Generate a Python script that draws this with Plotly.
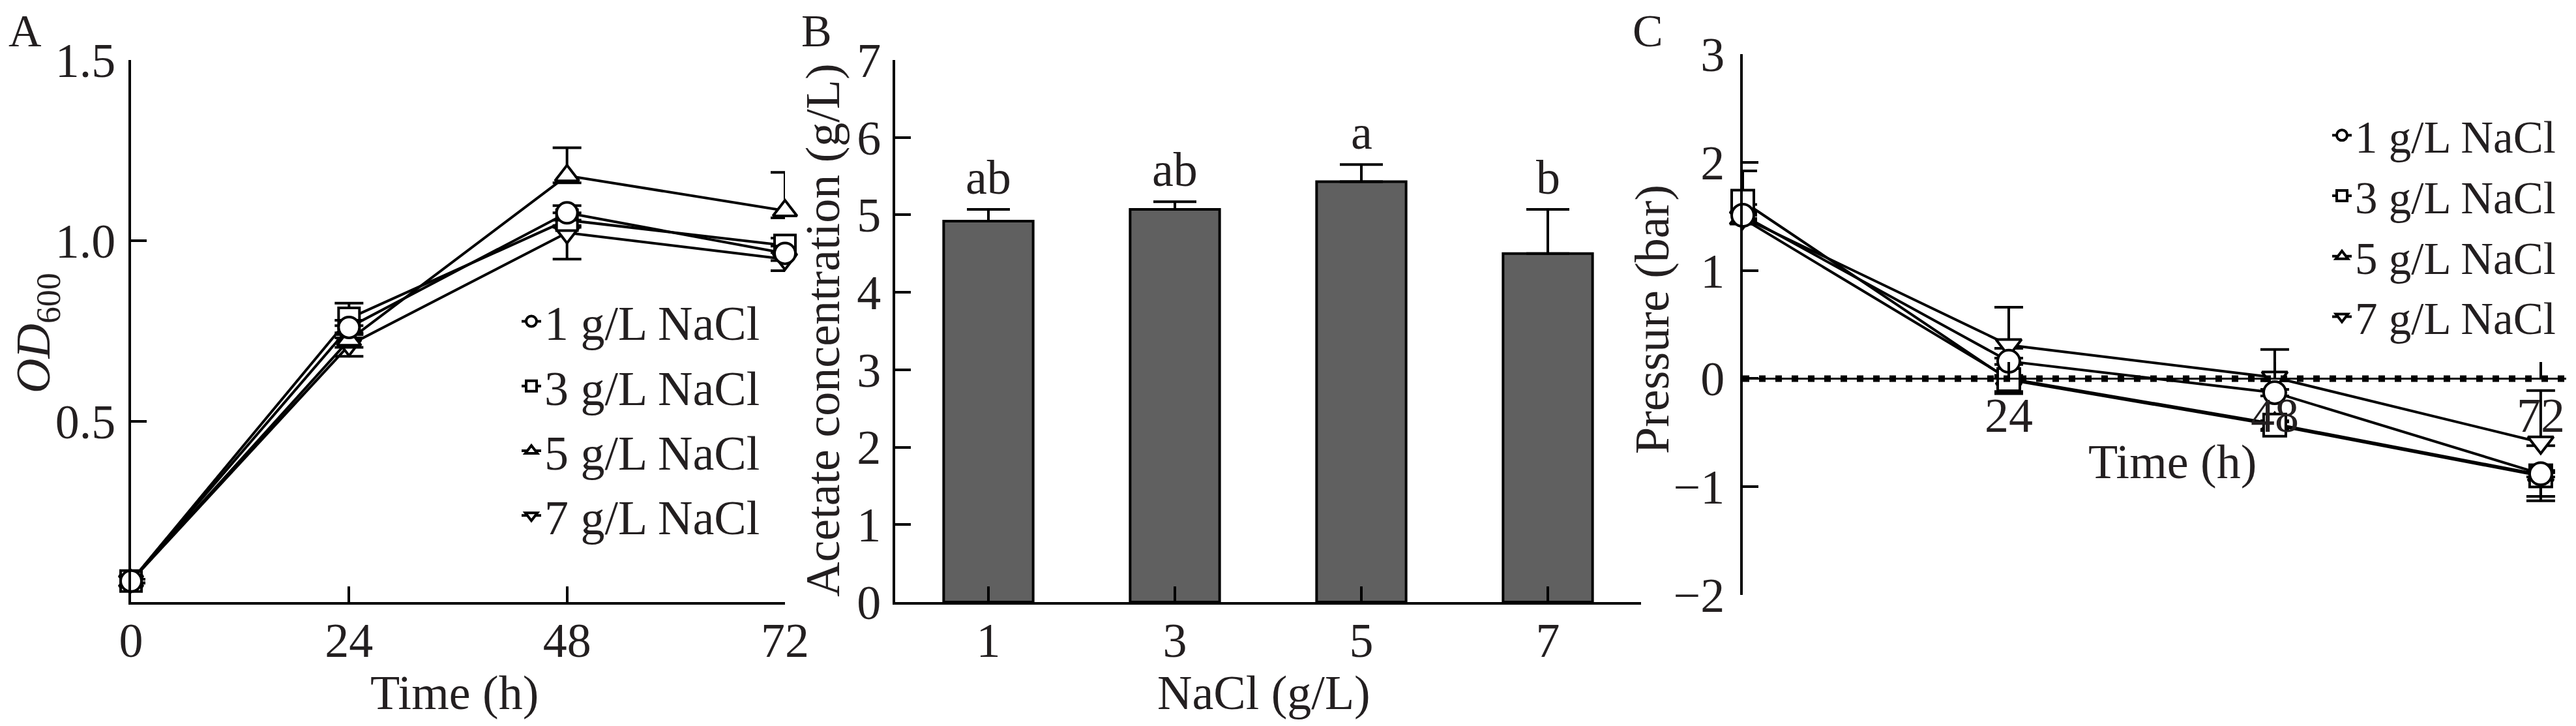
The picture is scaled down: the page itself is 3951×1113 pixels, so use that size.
import plotly.graph_objects as go

# Fig: growth (A), acetate (B) and pressure (C) under different NaCl levels
hours = [0, 24, 48, 72]
series_names = ["1 g/L NaCl", "3 g/L NaCl", "5 g/L NaCl", "7 g/L NaCl"]
series_symbols = ["circle", "square", "triangle-up", "triangle-down"]

# A: OD600
od_1 = [0.058, 0.760, 1.077, 0.965]
od_3 = [0.058, 0.785, 1.057, 0.987]
od_5 = [0.058, 0.725, 1.180, 1.083]
od_7 = [0.058, 0.711, 1.022, 0.949]
od_err_up_1 = [0.005, 0.02, 0.02, 0.02]
od_err_dn_1 = [0.005, 0.02, 0.02, 0.02]
od_err_up_3 = [0.005, 0.042, 0.02, 0.02]
od_err_dn_3 = [0.005, 0.02, 0.02, 0.02]
od_err_up_5 = [0.005, 0.02, 0.077, 0.106]
od_err_dn_5 = [0.005, 0.02, 0.02, 0.02]
od_err_up_7 = [0.005, 0.02, 0.02, 0.02]
od_err_dn_7 = [0.005, 0.031, 0.073, 0.032]

# B: acetate
nacl_levels = ["1", "3", "5", "7"]
acetate = [4.92, 5.07, 5.43, 4.50]
acetate_err = [0.15, 0.10, 0.22, 0.57]
acetate_letters = ["ab", "ab", "a", "b"]

# C: pressure
pr_1 = [1.51, 0.16, -0.13, -0.88]
pr_3 = [1.64, -0.01, -0.43, -0.90]
pr_5 = [1.48, 0.00, -0.42, -0.89]
pr_7 = [1.49, 0.31, 0.01, -0.59]
pr_err_up_1 = [0.03, 0.03, 0.03, 0.03]
pr_err_dn_1 = [0.03, 0.03, 0.03, 0.03]
pr_err_up_3 = [0.28, 0.03, 0.03, 0.03]
pr_err_dn_3 = [0.03, 0.13, 0.05, 0.23]
pr_err_up_5 = [0.03, 0.03, 0.03, 0.03]
pr_err_dn_5 = [0.05, 0.12, 0.05, 0.20]
pr_err_up_7 = [0.03, 0.35, 0.26, 0.48]
pr_err_dn_7 = [0.03, 0.03, 0.03, 0.03]

PAGE_W, PAGE_H = 3951, 1113
BODY = 8  # default page margin around the plot div
W, H = PAGE_W - 2 * BODY, PAGE_H - 2 * BODY
FONT = "Liberation Serif, Times New Roman, serif"
INK = "#231f20"


# page pixel -> paper fraction
def fx(p):
    return (p - BODY) / W


def fy(p):
    return 1 - (p - BODY) / H


od_sets = [(od_1, od_err_up_1, od_err_dn_1), (od_3, od_err_up_3, od_err_dn_3),
           (od_5, od_err_up_5, od_err_dn_5), (od_7, od_err_up_7, od_err_dn_7)]
pr_sets = [(pr_1, pr_err_up_1, pr_err_dn_1), (pr_3, pr_err_up_3, pr_err_dn_3),
           (pr_5, pr_err_up_5, pr_err_dn_5), (pr_7, pr_err_up_7, pr_err_dn_7)]

fig = go.Figure()

# draw 7 first so circles end up on top
for i in reversed(range(4)):
    for sets, xa, ya, leg, msize in [(od_sets, "x", "y", "legend", 32), (pr_sets, "x3", "y3", "legend2", 34)]:
        vals, up, dn = sets[i]
        fig.add_trace(go.Scatter(
            x=hours, y=vals, name=series_names[i], xaxis=xa, yaxis=ya,
            legend=leg, legendrank=i + 1, mode="lines+markers", cliponaxis=False,
            line=dict(color="black", width=4),
            marker=dict(symbol=series_symbols[i], size=msize, color="white",
                        line=dict(color="black", width=4)),
            error_y=dict(type="data", symmetric=False, array=up, arrayminus=dn,
                         color="black", thickness=4, width=22),
        ))

fig.add_trace(go.Bar(
    x=nacl_levels, y=acetate, xaxis="x2", yaxis="y2", width=0.48, showlegend=False,
    marker=dict(color="#606060", line=dict(color="black", width=4)),
    error_y=dict(type="data", symmetric=False, array=acetate_err, arrayminus=[0] * 4,
                 color="black", thickness=4, width=33),
))

axis_style = dict(showline=True, linecolor="black", linewidth=4, ticks="inside",
                  ticklen=24, tickwidth=4, tickcolor="black", showgrid=False,
                  zeroline=False, automargin=False,
                  tickfont=dict(family=FONT, size=74, color=INK))

dom_a = [fx(201), fx(1204)]
dom_b = [fx(1373), fx(2517)]
dom_c = [fx(2673), fx(3936)]
dom_y = [fy(923), fy(92)]
dom_yc = [fy(912), fy(83)]
range_yc = [-2, 3]
zero_pos = dom_yc[0] + (0 - range_yc[0]) / (range_yc[1] - range_yc[0]) * (dom_yc[1] - dom_yc[0])

fig.update_layout(
    width=W, height=H, margin=dict(l=0, r=0, t=0, b=0, autoexpand=False),
    plot_bgcolor="white", paper_bgcolor="white",
    font=dict(family=FONT, color=INK),
    xaxis=dict(axis_style, domain=dom_a, anchor="y", range=[0, 72], tickvals=hours,
               ticklabelstandoff=-9),
    yaxis=dict(axis_style, domain=dom_y, anchor="x", range=[0, 1.5],
               tickvals=[0.5, 1.0, 1.5], tickformat=".1f", ticklabelstandoff=5),
    xaxis2=dict(axis_style, domain=dom_b, anchor="y2", type="category", range=[-0.5, 3.5],
                ticklabelstandoff=-9),
    yaxis2=dict(axis_style, domain=dom_y, anchor="x2", range=[0, 7], dtick=1,
                ticklabelstandoff=3),
    xaxis3=dict(axis_style, domain=dom_c, anchor="free", position=zero_pos,
                range=[0, 74.3], tickvals=[24, 48, 72], linewidth=3,
                ticklabelstandoff=-9),
    yaxis3=dict(axis_style, domain=dom_yc, anchor="x3", range=range_yc, dtick=1,
                ticklabelstandoff=9),
    legend=dict(x=fx(795), y=fy(438), xanchor="left", yanchor="top",
                bgcolor="rgba(0,0,0,0)", font=dict(family=FONT, size=74, color=INK)),
    legend2=dict(x=fx(3572), y=fy(156), xanchor="left", yanchor="top",
                 bgcolor="rgba(0,0,0,0)", font=dict(family=FONT, size=69, color=INK)),
)

# dotted zero line of panel C
fig.add_shape(type="line", xref="x3 domain", yref="y3", x0=0, x1=1, y0=0, y1=0,
              line=dict(color="black", width=10, dash="10px,15px"))

# significance letters above the bars (category index on x)
for i, (v, e, t) in enumerate(zip(acetate, acetate_err, acetate_letters)):
    fig.add_annotation(x=i, y=v + e, xref="x2", yref="y2", text=t, showarrow=False,
                       yanchor="bottom", yshift=6, font=dict(family=FONT, size=74, color=INK))

# axis titles, placed where the original has them
titles = [
    ("Time (h)", 697, 1062, 0),
    ("NaCl (g/L)", 1938, 1062, 0),
    ("Time (h)", 3332, 708, 0),
    ("<i>OD</i><sub>600</sub>", 56, 511, -90),
    ("Acetate concentration (g/L)", 1262, 506, -90),
    ("Pressure (bar)", 2534, 490, -90),
]
for txt, px, py, ang in titles:
    fig.add_annotation(x=fx(px), y=fy(py), xref="paper", yref="paper", text=txt,
                       textangle=ang, showarrow=False, xanchor="center", yanchor="middle",
                       font=dict(family=FONT, size=74, color=INK))

# panel letters
for lab, px, py in [("A", 38, 48), ("B", 1252, 48), ("C", 2527, 48)]:
    fig.add_annotation(x=fx(px), y=fy(py), xref="paper", yref="paper", text=lab,
                       showarrow=False, xanchor="center", yanchor="middle",
                       font=dict(family=FONT, size=70, color=INK))

fig.write_html("out.html")
